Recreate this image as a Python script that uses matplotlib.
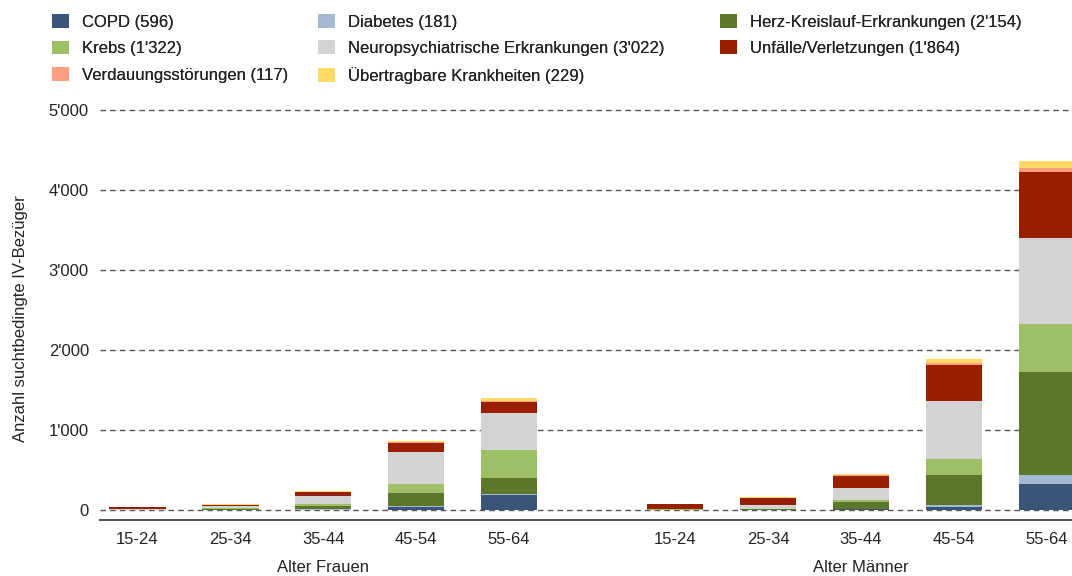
import matplotlib
matplotlib.use("Agg")
import matplotlib.pyplot as plt
import numpy as np
from matplotlib.patches import Patch
from matplotlib.ticker import FuncFormatter

plt.rcParams['font.family'] = ['Liberation Sans', 'DejaVu Sans']

# age groups, women first then men
age_labels = ['15-24', '25-34', '35-44', '45-54', '55-64']
group_labels = ['Alter Frauen', 'Alter Männer']

# values per disease: women 15-24..55-64, men 15-24..55-64
copd        = [1, 2, 5, 35, 187,    1, 2, 8, 35, 321]
diabetes    = [0, 1, 3, 10, 12,     1, 2, 6, 30, 116]
herz        = [2, 8, 45, 170, 196,  3, 6, 80, 376, 1284]
krebs       = [2, 10, 16, 113, 354, 2, 3, 29, 193, 600]
neuro       = [3, 30, 109, 396, 459, 5, 55, 158, 725, 1082]
unfaelle    = [25, 12, 48, 108, 137, 65, 80, 150, 453, 821]
verdauung   = [1, 3, 5, 13, 13,     1, 2, 5, 25, 49]
uebertragb  = [1, 4, 6, 22, 45,     1, 10, 12, 55, 95]

series = [
    ("COPD (596)", copd, "#3b5479"),
    ("Diabetes (181)", diabetes, "#a7b8d5"),
    ("Herz-Kreislauf-Erkrankungen (2'154)", herz, "#5b782a"),
    ("Krebs (1'322)", krebs, "#9dbf65"),
    ("Neuropsychiatrische Erkrankungen (3'022)", neuro, "#d3d3d3"),
    ("Unfälle/Verletzungen (1'864)", unfaelle, "#981f00"),
    ("Verdauungsstörungen (117)", verdauung, "#ff9f82"),
    ("Übertragbare Krankheiten (229)", uebertragb, "#ffd966"),
]

# x positions: two groups of five with a gap
gap = 0.785
x = np.concatenate([np.arange(5), np.arange(5) + 5 + gap])

fig = plt.figure(figsize=(10.72, 5.76), dpi=100)
ax = fig.add_axes([100 / 1072, 1 - 520 / 576, 1 - 100 / 1072, 420 / 576])

bottom = np.zeros(len(x))
handles = {}
for name, vals, col in series:
    vals = np.array(vals, dtype=float)
    ax.bar(x, vals, width=0.61, bottom=bottom, color=col, linewidth=0, zorder=3)
    bottom += vals
    handles[name] = Patch(facecolor=col, edgecolor='none')

ax.set_ylim(-125, 5125)
ax.set_xlim(-0.4, x[-1] + 0.27)
ax.set_yticks(np.arange(0, 5001, 1000))
ax.yaxis.set_major_formatter(FuncFormatter(lambda v, p: f"{int(v):,}".replace(",", "'")))
ax.grid(axis='y', linestyle=(0, (4, 3)), color='#555555', linewidth=1, zorder=1)
ax.set_xticks(x)
ax.set_xticklabels(age_labels * 2)
ax.tick_params(axis='both', length=0, labelsize=12, colors='#222222')
ax.tick_params(axis='x', pad=9)
ax.tick_params(axis='y', pad=8)
for s in ['top', 'right', 'left']:
    ax.spines[s].set_visible(False)
ax.spines['bottom'].set_color('#555555')
ax.spines['bottom'].set_linewidth(1.5)

ax.set_ylabel("Anzahl suchtbedingte IV-Bezüger", fontsize=12, color='#222222')
ax.yaxis.set_label_coords(-0.074, 0.48)

fig.text(323 / 1072, 1 - 568 / 576, group_labels[0], ha='center', va='center', fontsize=12, color='#222222')
fig.text(861 / 1072, 1 - 568 / 576, group_labels[1], ha='center', va='center', fontsize=12, color='#222222')

# legend: three columns placed separately
columns = [[0, 3, 6], [1, 4, 7], [2, 5]]
col_x = [52, 318, 720]
for idx, cx in zip(columns, col_x):
    names = [series[i][0] for i in idx]
    leg = fig.legend([handles[n] for n in names], names, loc='upper left',
                     bbox_to_anchor=(cx / 1072, 1 - 14 / 576), frameon=False, fontsize=12,
                     handlelength=1.0, handleheight=0.9, handletextpad=0.8,
                     labelspacing=0.65, borderpad=0, borderaxespad=0, labelcolor='#222222')
    fig.add_artist(leg)

fig.savefig("out.png", dpi=100)
